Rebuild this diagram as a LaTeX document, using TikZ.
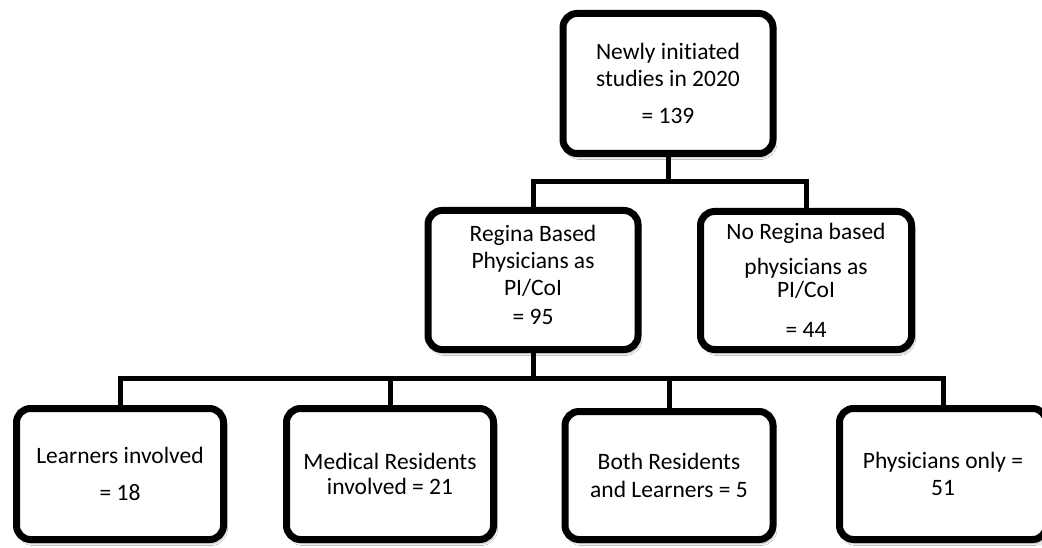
\documentclass[tikz,border=0pt]{standalone}
\usepackage{fontspec}
\setmainfont{Carlito}[Ligatures={NoCommon,NoContextual}]
\usetikzlibrary{shadows.blur}
\tikzset{
  box/.style={draw=black, line width=7pt, fill=white, rounded corners=14pt,
    align=center, inner sep=0pt, outer sep=0pt,
    font=\fontsize{23.5}{27}\selectfont,
    blur shadow={shadow xshift=2pt, shadow yshift=-4pt, shadow opacity=30, shadow blur steps=6}},
  conn/.style={draw=black, line width=5pt, line join=miter}
}
\begin{document}
\begin{tikzpicture}[x=1pt, y=-1pt]
\useasboundingbox[fill=white] (0,0) rectangle (1042,548);
% nodes
\node[box, minimum width=210pt, minimum height=140pt] (top) at (668,83.5)
  {Newly initiated\\studies in 2020\\[10pt]= 139};
\node[box, minimum width=210pt, minimum height=139pt] (ml) at (533,280)
  {Regina Based\\Physicians as\\PI/CoI\\[2pt]= 95\\[-17pt]\mbox{}};
\node[box, minimum width=211pt, minimum height=138pt] (mr) at (806,280.5)
  {No Regina based\\[8pt]physicians as\\[-4pt]PI/CoI\\[13pt]= 44};
\node[box, minimum width=207pt, minimum height=131pt] (b1) at (120,474)
  {Learners involved\\[10pt]= 18};
\node[box, minimum width=207pt, minimum height=131pt] (b2) at (390,474)
  {Medical Residents\\[-2pt]involved = 21};
\node[box, minimum width=208pt, minimum height=128pt] (b3) at (669,475.5)
  {Both Residents\\[1pt]and Learners = 5};
\node[box, minimum width=207pt, minimum height=131pt] (b4) at (943,474)
  {Physicians only =\\51};
% connectors
\coordinate (j1) at (668,182);
\coordinate (j2) at (533,378);
\draw[conn] (top.south) -- (j1);
\draw[conn] (ml.north) -- (ml.north |- j1) -- (mr.north |- j1) -- (mr.north);
\draw[conn] (ml.south) -- (j2);
\draw[conn] (b1.north) -- (b1.north |- j2) -- (b4.north |- j2) -- (b4.north);
\draw[conn] (b2.north) -- (b2.north |- j2);
\draw[conn] (b3.north) -- (b3.north |- j2);
\end{tikzpicture}
\end{document}
